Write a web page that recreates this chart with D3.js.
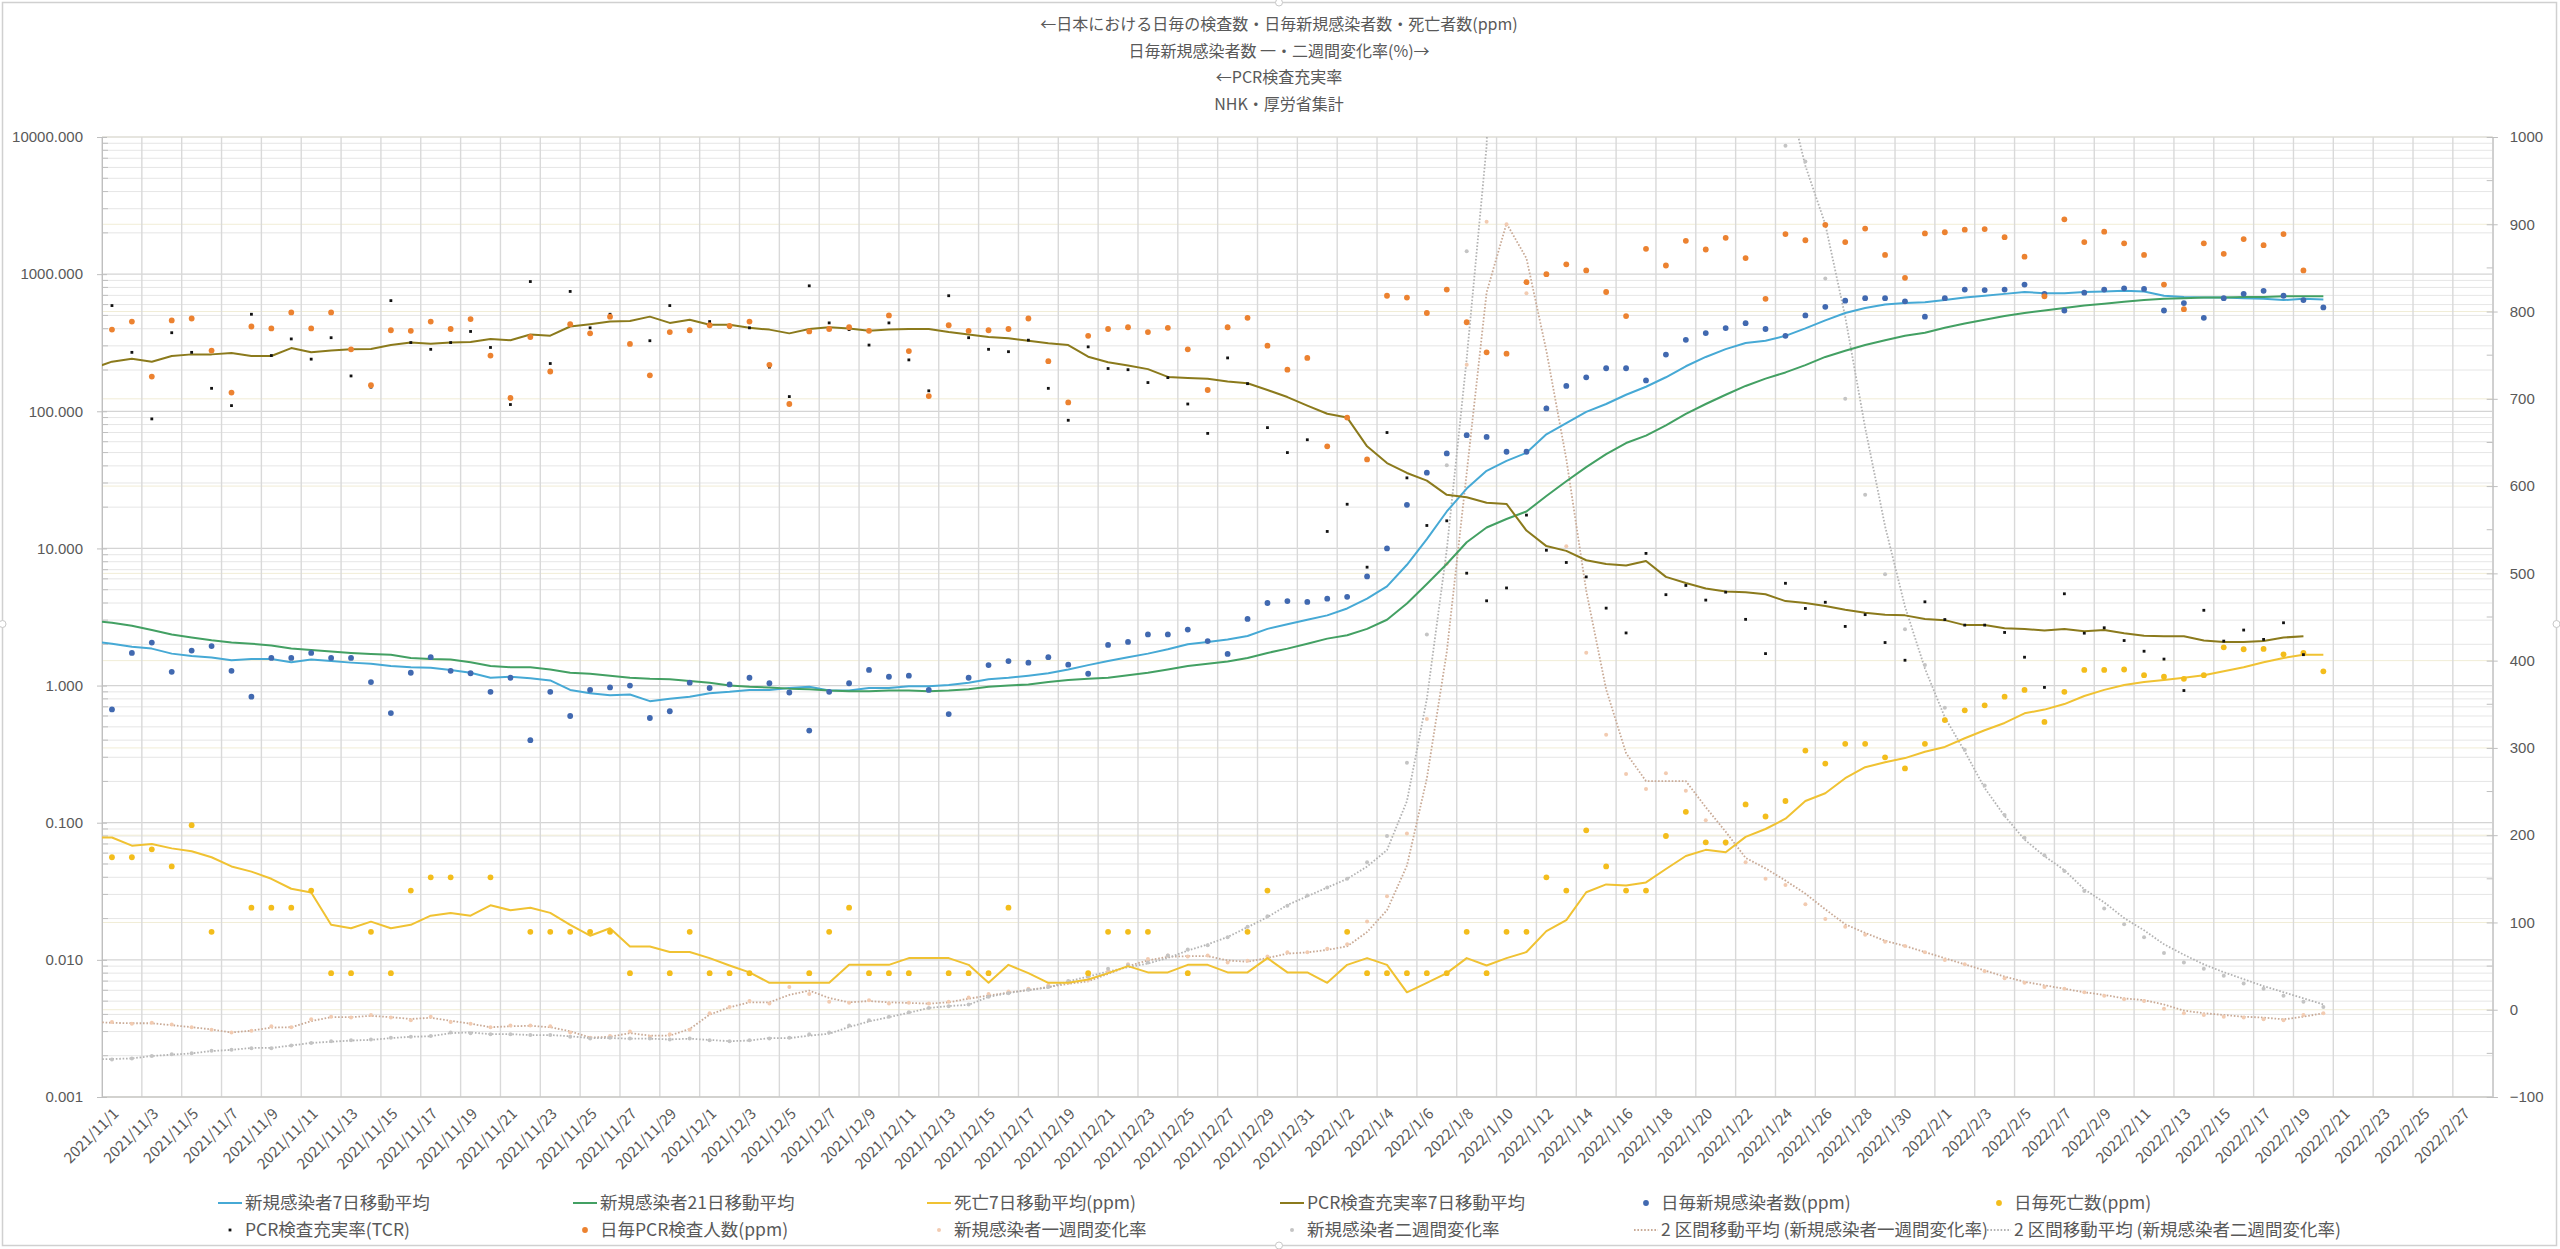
<!DOCTYPE html>
<html>
<head>
<meta charset="utf-8">
<script src="https://cdn.jsdelivr.net/npm/d3@7"></script>
<style>
  body { margin: 0; background: #fff; }
  svg { display: block; font-family: "Noto Sans CJK JP", "Noto Sans", sans-serif; }
</style>
</head>
<body>
<div id="chart"></div>
<script>
// title lines
const titleLines = [
    "←日本における日毎の検査数・日毎新規感染者数・死亡者数(ppm)",
    "日毎新規感染者数 一・二週間変化率(%)→",
    "←PCR検査充実率",
    "NHK・厚労省集計"
];

// first value = 2021/10/31, last = 2022/2/20
const cases7 = [2.1,
    2.02,1.92,1.86,1.71,1.64,1.60,1.53,1.56,1.56,1.48,1.55,1.51,1.47,1.44,1.39,1.36,1.35,
    1.30,1.24,1.14,1.16,1.13,1.09,0.93,0.88,0.85,0.86,0.77,0.80,0.83,0.88,0.90,0.93,
    0.93,0.96,0.98,0.92,0.92,0.96,0.96,0.99,0.99,1.01,1.05,1.11,1.14,1.18,1.23,1.31,1.41,
    1.51,1.61,1.71,1.84,2.0,2.08,2.17,2.30,2.59,2.80,3.02,3.25,3.65,4.30,5.29,7.6,
    11.7,18.6,27.3,36.8,43.5,49.8,68,82,99,113,132,151,177,213,249,284,315,
    327,355,402,460,521,566,600,615,625,647,675,696,718,741,727,727,741,
    748,756,748,696,682,675,675,668,661,647,661,654];

const cases21 = [2.97,
    2.87,2.73,2.54,2.36,2.24,2.14,2.06,2.02,1.96,1.86,1.82,1.77,1.73,1.70,1.68,1.59,1.56,
    1.55,1.48,1.39,1.36,1.36,1.31,1.24,1.22,1.18,1.14,1.12,1.11,1.08,1.05,1.0,0.98,
    0.97,0.95,0.94,0.92,0.91,0.91,0.92,0.92,0.91,0.92,0.94,0.98,1.0,1.02,1.06,1.10,1.12,
    1.14,1.19,1.24,1.31,1.39,1.44,1.50,1.59,1.73,1.86,2.02,2.20,2.33,2.59,3.02,3.97,
    5.5,7.7,11.1,14.2,16.4,18.6,24.1,30.9,39.2,48.7,58.7,66.5,79,95.9,113,132,153,
    173,192,217,249,276,304,330,355,374,406,437,465,495,521,543,566,590,
    609,628,647,661,668,675,675,682,682,689,689,689];

const deaths7 = [0.078,
    0.078,0.068,0.070,0.065,0.062,0.056,0.048,0.044,0.039,0.033,0.031,0.018,0.017,0.019,0.017,0.018,0.021,
    0.022,0.021,0.025,0.023,0.024,0.022,0.018,0.015,0.017,0.0125,0.0125,0.0114,0.0114,0.0103,0.0091,0.0081,
    0.0068,0.0068,0.0068,0.0068,0.0092,0.0092,0.0092,0.0103,0.0103,0.0103,0.0092,0.0068,0.0092,0.0080,0.0068,0.0068,0.0072,
    0.0080,0.0090,0.0081,0.0081,0.0092,0.0092,0.0081,0.0081,0.0103,0.0081,0.0081,0.0068,0.0092,0.0103,0.0092,0.0058,
    0.0068,0.0080,0.0103,0.0091,0.0103,0.0114,0.0162,0.0195,0.0311,0.0355,0.0348,0.0367,0.046,0.0572,0.0634,0.0609,0.0788,
    0.090,0.107,0.144,0.164,0.211,0.254,0.276,0.296,0.329,0.357,0.413,0.472,0.534,0.628,0.668,0.733,0.84,
    0.93,1.01,1.06,1.10,1.14,1.19,1.27,1.36,1.48,1.59,1.68,1.68];

const pcr7 = [205,
    230,242,230,253,260,260,266,253,253,289,269,277,283,285,304,317,311,
    317,320,337,330,363,356,415,432,451,455,490,441,465,428,428,406,
    394,370,398,410,402,386,394,398,398,378,363,348,341,327,314,304,250,
    228,216,203,178,175,173,165,160,143,127,110,96,90,55.5,41.9,35.5,
    31.2,24.6,23.6,21.5,21.1,13.5,10.4,9.6,8.2,7.7,7.5,8.1,6.2,5.6,5.1,4.85,4.8,
    4.63,4.13,4.0,3.8,3.57,3.39,3.29,3.25,3.06,3.0,2.76,2.76,2.62,2.59,2.52,2.59,2.49,
    2.54,2.41,2.31,2.29,2.29,2.13,2.08,2.08,2.11,2.24,2.29,null];

const casesDaily = [null,
    0.67,1.73,2.06,1.26,1.80,1.94,1.28,0.83,1.59,1.59,1.73,1.59,1.59,1.06,0.63,1.24,1.61,
    1.28,1.23,0.90,1.14,0.40,0.90,0.60,0.93,0.97,1.0,0.58,0.65,1.05,0.96,1.02,1.14,
    1.04,0.89,0.47,0.90,1.04,1.30,1.16,1.18,0.93,0.62,1.14,1.41,1.51,1.47,1.61,1.42,1.22,
    1.98,2.08,2.36,2.36,2.56,2.11,1.70,3.06,4.0,4.13,4.07,4.30,4.44,6.25,10.0,20.8,
    35.7,49.3,67,65,50.7,50.7,105,153,177,206,206,168,259,332,372,404,439,
    398,355,500,578,641,668,668,634,490,668,772,765,772,839,718,543,733,
    772,788,780,543,615,480,668,718,756,696,647,572];

const deathsDaily = [null,
    0.056,0.056,0.064,0.048,0.096,0.016,null,0.024,0.024,0.024,0.032,0.008,0.008,0.016,0.008,0.032,0.040,
    0.040,null,0.040,null,0.016,0.016,0.016,0.016,0.016,0.008,null,0.008,0.016,0.008,0.008,0.008,
    null,null,0.008,0.016,0.024,0.008,0.008,0.008,null,0.008,0.008,0.008,0.024,null,null,null,0.008,
    0.016,0.016,0.016,null,0.008,null,null,0.016,0.032,null,null,null,0.016,0.008,0.008,0.008,
    0.008,0.008,0.016,0.008,0.016,0.016,0.040,0.032,0.088,0.048,0.032,0.032,0.080,0.12,0.072,0.072,0.136,
    0.111,0.144,0.336,0.270,0.376,0.376,0.30,0.249,0.376,0.56,0.66,0.718,0.83,0.93,0.543,0.90,1.30,
    1.30,1.31,1.19,1.16,1.12,1.19,1.90,1.84,1.85,1.69,1.73,1.27];

const pcrDaily = [null,
    394,451,179,460,475,277,137,415,402,526,402,526,283,155,390,386,451,
    398,470,255,125,348,195,432,370,490,310,183,378,390,424,420,451,
    218,113,382,398,410,386,500,275,129,424,386,390,398,475,232,116,355,
    398,410,378,406,283,143,410,480,301,201,245,55.5,90,44.6,696,675,
    521,772,446,269,263,874,1000,1180,1064,741,495,1530,1156,1750,1513,1840,1310,
    661,1960,1766,2290,1713,2150,1380,940,1980,2020,2110,2130,1860,1340,689,2510,1713,
    2040,1677,1380,839,555,1677,1407,1803,1627,1960,1064,null];

const tcrDaily = [null,
    590,269,88,374,269,147,110,510,255,337,240,344,181,150,641,317,283,
    317,382,292,112,883,223,748,406,510,310,327,590,382,451,411,406,
    210,128,822,441,394,304,441,237,141,696,344,283,272,330,147,86,295,
    205,201,162,176,113,69,245,159,76,50,62,13.3,21,7.3,70,32.7,
    14.7,15.9,6.6,4.15,5.15,17.5,9.7,7.9,6.2,3.67,2.42,9.2,4.6,5.37,4.2,4.8,3.04,
    1.71,5.57,3.65,4.05,2.70,3.29,2.06,1.53,4.08,3.03,2.76,2.76,2.44,1.61,0.97,4.67,2.41,
    2.64,2.13,1.78,1.56,0.92,3.54,2.11,2.54,2.17,2.87,1.68,null];

// right axis (%)
const week1Rate = [null,
    -14,-16,-15,-17,-20,-23,-26,-24,-19,-20,-11,-8,-9,-6,-9,-12,-8,
    -14,-16,-20,-18,-18,-19,-26,-32,-30,-25,-31,-28,-23,-4,3,10,
    7,26,18,9,8,11,7,8,7,9,14,18,21,24,28,31,34,
    44,52,58,62,61,62,54,56,61,66,66,70,75,101,130,202,
    333,511,739,903,900,821,690,531,409,315,270,253,271,251,217,190,169,
    150,143,121,104,95,86,78,73,66,57,52,44,36,31,26,24,20,
    16,12,10,1,-4,-6,-8,-9,-11,-12,-6,-4];

const week2Rate = [null,
    -57,-56,-53,-51,-50,-47,-46,-44,-44,-41,-38,-36,-35,-34,-32,-31,-30,
    -26,-27,-28,-28,-29,-29,-31,-33,-32,-33,-33,-34,-33,-35,-36,-35,
    -33,-32,-28,-26,-18,-12,-8,-3,2,4,6,15,19,23,26,33,38,
    47,51,54,62,69,74,83,95,107,119,131,140,150,169,199,283,
    430,624,869,1110,2500,3500,4500,4500,3800,3200,2500,2000,1600,1400,1250,1150,1100,
    1050,990,972,838,700,590,499,436,395,346,298,257,223,197,177,159,136,
    116,98,83,65,54,47,39,30,24,16,9,3];

const week1Avg = [-14,
    -15,-15.5,-15.5,-17.7,-20,-22.6,-26,-24,-20.5,-20,-13,-8.5,-8.5,-7,-8.5,-10.6,-9.2,
    -12.7,-16,-20,-19,-18.4,-20,-24.7,-31.8,-31,-26.8,-29.7,-29.7,-22,-5.6,2.8,8.5,
    8.5,17,22,13.4,8.5,9.9,8.5,7.8,7,8.5,12.7,16.2,19.8,22.6,26,29.7,32.5,
    41,50,56.5,60.7,61.4,61.4,56.5,55,59.3,64.3,65.7,68.5,72.7,89,114,165,
    265,410,615,822,901,861,755,631,480,367,294,262,262,262,232,204,174,
    162,148,133,115,98,88,79,73,66,59,52,45,38,32,28,24,20,
    17,13,11,6,-1,-4,-6,-8,-9,-11,-8,-4];

const week2Avg = [-56.5,
    -56.5,-55.8,-53,-51.5,-50,-47.3,-46,-43.8,-43.8,-41,-38,-36.7,-35.3,-34.6,-32.5,-31,-30.4,
    -26.8,-26,-28,-28,-29,-29,-30.4,-32.5,-32.5,-33.2,-33.2,-34,-33.2,-34.6,-36,-35.3,
    -32.5,-32.5,-29.7,-27.5,-19.8,-13.4,-8.5,-3.5,2,4.2,5.6,14.8,19,22.6,25.4,32.5,38,
    43.8,48.7,53,59.3,67.8,74.9,83.3,94.6,106,120,130,140,150,164,183,239,
    356,527,746,990,1800,2800,3800,4300,4000,3500,2800,2200,1800,1500,1300,1200,1150,
    1100,1060,967,900,794,667,554,462,391,335,296,254,222,195,176,160,138,
    123,105,91,75,63,52,43,35,27,20,13,6];

const leftTicks = [0.001, 0.01, 0.1, 1, 10, 100, 1000, 10000];
const rightTicks = [-100, 0, 100, 200, 300, 400, 500, 600, 700, 800, 900, 1000];

const W = 2560, H = 1249;
const plot = {left: 102, right: 2492.7, top: 137, bottom: 1097};

const svg = d3.select("#chart").append("svg")
    .attr("width", W)
    .attr("height", H);

svg.append("rect").attr("width", W).attr("height", H).attr("fill", "#fff");

// chart border + selection handles
svg.append("rect")
    .attr("x", 2.5).attr("y", 2.5)
    .attr("width", 2554).attr("height", 1243)
    .attr("fill", "none").attr("stroke", "#d0d0d0").attr("stroke-width", 1.5);
[[1279, 2.5], [2556.5, 624], [2.5, 624], [1279, 1245.5]].forEach(p => {
    svg.append("circle").attr("cx", p[0]).attr("cy", p[1]).attr("r", 3.5)
        .attr("fill", "#fff").attr("stroke", "#c8c8c8");
});

// scales
const startDay = new Date(Date.UTC(2021, 9, 31));
const days = d3.utcDay.range(startDay, new Date(Date.UTC(2022, 1, 21)));
const x = d3.scaleUtc()
    .domain([new Date(Date.UTC(2021, 10, 1)), new Date(Date.UTC(2022, 2, 1))])
    .range([plot.left, plot.right]);
const yL = d3.scaleLog().domain([0.001, 10000]).range([plot.bottom, plot.top]);
const yR = d3.scaleLinear().domain([-100, 1000]).range([plot.bottom, plot.top]);
const px = i => x(d3.utcHour.offset(days[i], 12));

// gridlines
const grid = svg.append("g");
leftTicks.slice(0, -1).forEach(d => {
    for (let m = 2; m <= 9; m++) {
        grid.append("line")
            .attr("x1", plot.left).attr("x2", plot.right)
            .attr("y1", yL(d * m)).attr("y2", yL(d * m))
            .attr("stroke", "#e6e6e6").attr("stroke-width", 1);
    }
});
rightTicks.forEach(d => {
    grid.append("line")
        .attr("x1", plot.left).attr("x2", plot.right)
        .attr("y1", yR(d)).attr("y2", yR(d))
        .attr("stroke", "#f1edd6").attr("stroke-width", 1);
});
leftTicks.forEach(d => {
    grid.append("line")
        .attr("x1", plot.left).attr("x2", plot.right)
        .attr("y1", yL(d)).attr("y2", yL(d))
        .attr("stroke", "#d4d4d4").attr("stroke-width", 1.2);
});
const gridDays = d3.utcDay.range(new Date(Date.UTC(2021, 10, 1)), new Date(Date.UTC(2022, 2, 2)), 2);
gridDays.forEach(d => {
    grid.append("line")
        .attr("x1", x(d)).attr("x2", x(d))
        .attr("y1", plot.top).attr("y2", plot.bottom)
        .attr("stroke", "#d9d9d9").attr("stroke-width", 1.4);
});

// axes
const axisColor = "#595959";
const leftAxis = svg.append("g")
    .attr("transform", `translate(${plot.left},0)`)
    .call(d3.axisLeft(yL).tickValues(leftTicks).tickFormat(d3.format(".3f")).tickSize(5).tickPadding(14));
leftAxis.select(".domain").attr("stroke", "#bfbfbf");
leftAxis.selectAll(".tick line").attr("stroke", "#bfbfbf").attr("x2", 5).attr("x1", -5);
leftAxis.selectAll("text").attr("fill", axisColor).style("font-size", "15px");
leftTicks.slice(0, -1).forEach(d => {
    for (let m = 2; m <= 9; m++) {
        leftAxis.append("line").attr("x1", 0).attr("x2", 6)
            .attr("y1", yL(d * m)).attr("y2", yL(d * m)).attr("stroke", "#bfbfbf");
    }
});

const rightAxis = svg.append("g")
    .attr("transform", `translate(${plot.right},0)`)
    .call(d3.axisRight(yR).tickValues(rightTicks).tickFormat(d3.format("d")).tickSize(5).tickPadding(12));
rightAxis.select(".domain").attr("stroke", "#bfbfbf");
rightAxis.selectAll(".tick line").attr("stroke", "#bfbfbf").attr("x1", -6).attr("x2", 5);
rightAxis.selectAll("text").attr("fill", axisColor).style("font-size", "15px");
d3.range(-50, 1000, 100).forEach(d => {
    rightAxis.append("line").attr("x1", -6).attr("x2", 0)
        .attr("y1", yR(d)).attr("y2", yR(d)).attr("stroke", "#bfbfbf");
});

svg.append("line")
    .attr("x1", plot.left).attr("x2", plot.right)
    .attr("y1", plot.bottom).attr("y2", plot.bottom)
    .attr("stroke", "#bfbfbf");

// x labels
const fmt = d3.utcFormat("%Y/%-m/%-d");
const labelDays = d3.utcDay.range(new Date(Date.UTC(2021, 10, 1)), new Date(Date.UTC(2022, 2, 1)), 2);
svg.append("g").selectAll("text")
    .data(labelDays)
    .join("text")
    .attr("transform", d => `translate(${x(d3.utcHour.offset(d, 12)) + 4},${plot.bottom + 14}) rotate(-45)`)
    .attr("text-anchor", "end")
    .attr("dy", "0.35em")
    .attr("fill", axisColor)
    .style("font-size", "15px")
    .text(d => fmt(d));

// titles
svg.append("g").selectAll("text")
    .data(titleLines)
    .join("text")
    .attr("x", 1279)
    .attr("y", (d, i) => 30 + i * 26.7)
    .attr("text-anchor", "middle")
    .attr("fill", axisColor)
    .style("font-size", "16px")
    .text(d => d);

// plot content
svg.append("clipPath").attr("id", "plot-clip")
    .append("rect")
    .attr("x", plot.left).attr("y", plot.top)
    .attr("width", plot.right - plot.left).attr("height", plot.bottom - plot.top);
const area = svg.append("g").attr("clip-path", "url(#plot-clip)");

const colors = {
    cases7: "#46a9d5",
    cases21: "#43a063",
    deaths7: "#f0c232",
    pcr7: "#8b7a1c",
    cases: "#4169b0",
    deaths: "#f3bd1c",
    tcr: "#111111",
    pcr: "#ec8230",
    week1: "#f2cbb1",
    week2: "#c4c4c4",
    week1Avg: "#c9aa96",
    week2Avg: "#b3b3b3"
};

function drawLine(values, scale, color, width, dash) {
    const line = d3.line()
        .defined(d => d != null)
        .x((d, i) => px(i))
        .y(d => scale(d));
    area.append("path")
        .datum(values)
        .attr("fill", "none")
        .attr("stroke", color)
        .attr("stroke-width", width)
        .attr("stroke-dasharray", dash || null)
        .attr("stroke-linejoin", "round")
        .attr("d", line);
}

function drawDots(values, scale, color, r) {
    area.append("g").selectAll("circle")
        .data(values.map((v, i) => ({v, i})).filter(d => d.v != null))
        .join("circle")
        .attr("cx", d => px(d.i))
        .attr("cy", d => scale(d.v))
        .attr("r", r)
        .attr("fill", color);
}

// secondary axis series
drawLine(week1Avg, yR, colors.week1Avg, 1.8, "1.6,1.8");
drawLine(week2Avg, yR, colors.week2Avg, 1.8, "1.6,1.8");
drawDots(week1Rate, yR, colors.week1, 2);
drawDots(week2Rate, yR, colors.week2, 2);

// primary lines
drawLine(cases7, yL, colors.cases7, 2);
drawLine(cases21, yL, colors.cases21, 2);
drawLine(deaths7, yL, colors.deaths7, 2);
drawLine(pcr7, yL, colors.pcr7, 2);

// primary markers
drawDots(casesDaily, yL, colors.cases, 2.9);
drawDots(deathsDaily, yL, colors.deaths, 2.9);
area.append("g").selectAll("rect")
    .data(tcrDaily.map((v, i) => ({v, i})).filter(d => d.v != null))
    .join("rect")
    .attr("x", d => px(d.i) - 1.4)
    .attr("y", d => yL(d.v) - 1.4)
    .attr("width", 2.8).attr("height", 2.8)
    .attr("fill", colors.tcr);
drawDots(pcrDaily, yL, colors.pcr, 2.9);

// legend
const legendCols = [230, 585, 939, 1292, 1646, 1999];
const legendRows = [1203, 1230];
const legendItems = [
    {name: "新規感染者7日移動平均", type: "line", color: colors.cases7},
    {name: "新規感染者21日移動平均", type: "line", color: colors.cases21},
    {name: "死亡7日移動平均(ppm)", type: "line", color: colors.deaths7},
    {name: "PCR検査充実率7日移動平均", type: "line", color: colors.pcr7},
    {name: "日毎新規感染者数(ppm)", type: "dot", color: colors.cases},
    {name: "日毎死亡数(ppm)", type: "dot", color: colors.deaths},
    {name: "PCR検査充実率(TCR)", type: "square", color: colors.tcr},
    {name: "日毎PCR検査人数(ppm)", type: "dot", color: colors.pcr},
    {name: "新規感染者一週間変化率", type: "small", color: colors.week1},
    {name: "新規感染者二週間変化率", type: "small", color: colors.week2},
    {name: "2 区間移動平均 (新規感染者一週間変化率)", type: "dotted", color: colors.week1Avg},
    {name: "2 区間移動平均 (新規感染者二週間変化率)", type: "dotted", color: colors.week2Avg}
];
const legend = svg.append("g");
legendItems.forEach((item, k) => {
    const cx = legendCols[k % 6];
    const cy = legendRows[Math.floor(k / 6)];
    const g = legend.append("g").attr("transform", `translate(${cx},${cy})`);
    if (item.type === "line" || item.type === "dotted") {
        g.append("line").attr("x1", -12).attr("x2", 12)
            .attr("stroke", item.color).attr("stroke-width", 2)
            .attr("stroke-dasharray", item.type === "dotted" ? "1.6,1.8" : null);
    } else if (item.type === "square") {
        g.append("rect").attr("x", -1.4).attr("y", -1.4).attr("width", 2.8).attr("height", 2.8)
            .attr("fill", item.color);
    } else {
        g.append("circle").attr("r", item.type === "small" ? 2 : 2.9).attr("fill", item.color);
    }
    g.append("text")
        .attr("x", 15)
        .attr("dy", "0.35em")
        .attr("fill", axisColor)
        .style("font-size", "17.5px")
        .text(item.name);
});
</script>
</body>
</html>
